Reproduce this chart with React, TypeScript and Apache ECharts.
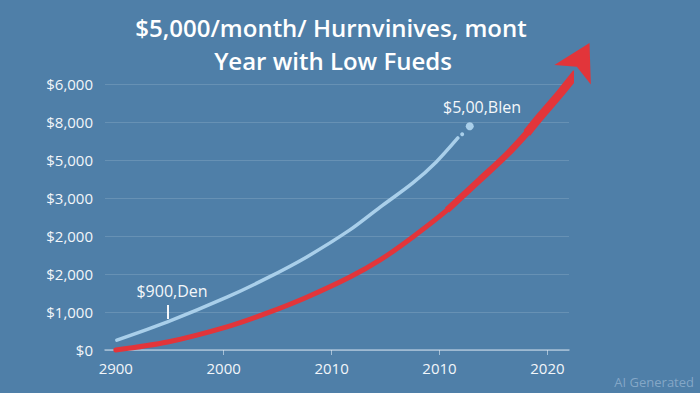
import React, { useEffect, useRef } from "react";
import * as echarts from "echarts";

const titleLines = ["$5,000/month/ Hurnvinives, mont", "Year with Low Fueds"];
const xTickLabels = ["2900", "2000", "2010", "2010", "2020"];
const yTickLabels = ["$0", "$1,000", "$2,000", "$2,000", "$3,000", "$5,000", "$8,000", "$6,000"];

const blueLine = [
  [0.01, 0.26], [0.48, 0.74], [1.03, 1.39], [1.4, 1.89], [1.77, 2.45],
  [2.17, 3.16], [2.45, 3.76], [2.75, 4.39], [2.97, 4.95], [3.17, 5.58],
];
const blueDots = [[3.21, 5.68, 4], [3.28, 5.89, 8]];
const redLine = [
  [0.0, 0.0], [0.48, 0.21], [1.03, 0.61], [1.4, 0.97], [1.77, 1.39],
  [2.17, 1.92], [2.45, 2.37], [2.75, 2.97], [3.07, 3.68], [3.37, 4.47],
  [3.62, 5.13], [3.81, 5.71], [3.93, 6.13], [4.12, 6.76], [4.27, 7.29],
];
const redMid = [[3.07, 3.68], [3.37, 4.47], [3.62, 5.13], [3.81, 5.71], [3.93, 6.13], [4.12, 6.76], [4.27, 7.29]];
const redTail = [[3.81, 5.71], [3.93, 6.13], [4.12, 6.76], [4.27, 7.29]];
const arrowTip = [[4.39, 8.08]];
const annotations = ["$900,Den", "$5,00,Blen"];

const FONT = "'Open Sans', 'Noto Sans', sans-serif";
const RED = "#e2353a";

export default function App() {
  const ref = useRef<HTMLDivElement>(null);
  useEffect(() => {
    if (!ref.current) return;
    const chart = echarts.init(ref.current, null, { renderer: "svg" });
    const redSeries = (data: number[][], width: number) => ({
      type: "line",
      data,
      smooth: 0.3,
      symbol: "none",
      clip: false,
      z: 3,
      lineStyle: { color: RED, width, cap: "butt" },
    });
    chart.setOption({
      animation: false,
      backgroundColor: "#4f7fa8",
      textStyle: { fontFamily: FONT },
      grid: { left: 105, right: 131, top: 84, bottom: 43, containLabel: false },
      xAxis: {
        type: "value",
        min: -0.1,
        max: 4.2,
        splitLine: { show: false },
        axisLine: { show: true, lineStyle: { color: "rgba(225,235,245,0.6)", width: 1.5 } },
        axisTick: {
          show: true,
          customValues: [1, 2, 3, 4],
          length: 5,
          lineStyle: { color: "rgba(225,235,245,0.6)", width: 1 },
        },
        axisLabel: {
          customValues: [0, 1, 2, 3, 4],
          formatter: (v: number) => xTickLabels[Math.round(v)] ?? "",
          color: "#f2f6fa",
          fontSize: 15,
          margin: 10,
          fontFamily: FONT,
        },
      },
      yAxis: {
        type: "value",
        min: 0,
        max: 7,
        interval: 1,
        axisLine: { show: false },
        axisTick: { show: false },
        splitLine: { show: true, lineStyle: { color: "rgba(255,255,255,0.14)", width: 1 } },
        axisLabel: {
          formatter: (v: number) => yTickLabels[Math.round(v)] ?? "",
          color: "#f2f6fa",
          fontSize: 15,
          margin: 12,
          fontFamily: FONT,
        },
      },
      series: [
        {
          type: "line",
          data: blueLine,
          smooth: 0.3,
          symbol: "none",
          clip: false,
          lineStyle: { color: "#a9cfea", width: 3.5, cap: "round" },
        },
        {
          type: "scatter",
          data: blueDots,
          symbolSize: (d: number[]) => d[2],
          clip: false,
          itemStyle: { color: "#a9cfea", opacity: 1 },
        },
        { ...redSeries(redLine, 5), lineStyle: { color: RED, width: 5, cap: "round" } },
        redSeries(redMid, 6.5),
        redSeries(redTail, 8.5),
        {
          type: "scatter",
          data: arrowTip,
          symbol: "arrow",
          symbolSize: [31, 36],
          symbolRotate: -28,
          clip: false,
          z: 4,
          itemStyle: { color: RED, opacity: 1 },
        },
      ],
      graphic: [
        {
          type: "text",
          x: 331,
          y: 27,
          style: {
            text: titleLines[0],
            fill: "#ffffff",
            font: `600 24px ${FONT}`,
            align: "center",
            verticalAlign: "middle",
          },
        },
        {
          type: "text",
          x: 333,
          y: 60,
          style: {
            text: titleLines[1],
            fill: "#ffffff",
            font: `600 24px ${FONT}`,
            align: "center",
            verticalAlign: "middle",
          },
        },
        {
          type: "text",
          x: 172,
          y: 291,
          style: {
            text: annotations[0],
            fill: "#f4f7fa",
            font: `16px ${FONT}`,
            align: "center",
            verticalAlign: "middle",
          },
        },
        {
          type: "line",
          shape: { x1: 168, y1: 305, x2: 168, y2: 319 },
          style: { stroke: "#f4f7fa", lineWidth: 2 },
        },
        {
          type: "text",
          x: 482,
          y: 107,
          style: {
            text: annotations[1],
            fill: "#f4f7fa",
            font: `16px ${FONT}`,
            align: "center",
            verticalAlign: "middle",
          },
        },
        {
          type: "text",
          right: 6,
          bottom: 5,
          style: {
            text: "AI Generated",
            fill: "rgba(200,220,238,0.45)",
            font: `13px ${FONT}`,
          },
        },
      ],
    });
    return () => chart.dispose();
  }, []);
  return (
    <div
      ref={ref}
      style={{ position: "fixed", left: 0, top: 0, width: 700, height: 393 }}
    />
  );
}
